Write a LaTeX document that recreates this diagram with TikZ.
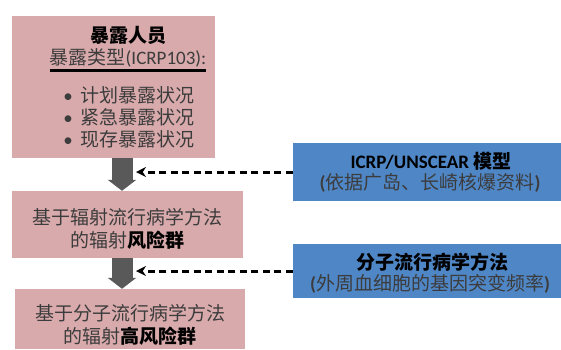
\documentclass[tikz,border=0pt]{standalone}
\usepackage{fontspec}
\newfontfamily\cjk{Noto Sans CJK SC}
\newfontfamily\lat{Carlito}
\usetikzlibrary{arrows.meta}
\definecolor{pinkfill}{RGB}{217,170,172}
\definecolor{bluefill}{RGB}{79,134,198}
\definecolor{arrowgray}{RGB}{89,89,89}
\definecolor{txtgray}{RGB}{60,60,60}
\begin{document}
\begin{tikzpicture}[x=1pt,y=-1pt,
  pinkb/.style={fill=pinkfill,draw=none,inner sep=0pt},
  blueb/.style={fill=bluefill,draw=none,inner sep=0pt},
  txt/.style={inner sep=0pt,text=txtgray,font=\cjk\fontsize{19}{22.5}\selectfont},
  txtb/.style={inner sep=0pt,text=black,font=\cjk\bfseries\fontsize{19}{22.5}\selectfont},
  blockarr/.style={draw=arrowgray,line width=21pt,-{Triangle[width=28pt,length=11pt]}},
  dasharr/.style={draw=black,line width=3pt,dash pattern=on 7pt off 4.5pt,-{Stealth[length=10pt,width=10pt]}}]
\useasboundingbox (0,0) rectangle (561,349);
% boxes
\node[pinkb,minimum width=203pt,minimum height=142pt] (b1) at (113.5,87) {};
\node[pinkb,minimum width=231pt,minimum height=67pt] (b2) at (127.5,224.5) {};
\node[pinkb,minimum width=230pt,minimum height=60pt] (b3) at (130,319) {};
\node[blueb,minimum width=268pt,minimum height=58pt] (c1) at (427,172) {};
\node[blueb,minimum width=268pt,minimum height=54pt] (c2) at (427,271) {};
% box 1 text
\node[txtb] (t1) at (128,35) {暴露人员};
\node[txt] (t2) at (128,58) {暴露类型{\lat (ICRP103):}};
\draw[line width=2.2pt] ([yshift=-3pt]t2.south west) -- ([yshift=-3pt]t2.south east);
\node[txt] (t3) at (129,95) {{\lat •}\hspace{8pt}计划暴露状况};
\node[txt] (t4) at (129,117) {{\lat •}\hspace{8pt}紧急暴露状况};
\node[txt] (t5) at (129,139) {{\lat •}\hspace{8pt}现存暴露状况};
% box 2 text
\node[txt] (t6) at (127,217) {基于辐射流行病学方法};
\node[txt] (t7) at (127,240) {的辐射{\color{black}\bfseries 风险群}};
% box 3 text
\node[txt] (t8) at (130,313) {基于分子流行病学方法};
\node[txt] (t9) at (130,336) {的辐射{\color{black}\bfseries 高风险群}};
% blue texts
\node[txtb] (u1) at (431,161) {{\lat\bfseries ICRP/UNSCEAR} 模型};
\node[txt] (u2) at (430,183) {{\lat\bfseries (}依据广岛、长崎核爆资料{\lat\bfseries )}};
\node[txtb] (u3) at (432,262) {分子流行病学方法};
\node[txt] (u4) at (430,284) {{\lat\bfseries (}外周血细胞的基因突变频率{\lat\bfseries )}};
% connectors
\coordinate (ax) at (122,0);
\coordinate (dx) at (136,0);
\draw[blockarr] (b1.south -| ax) -- (b2.north -| ax);
\draw[blockarr] (b2.south -| ax) -- (b3.north -| ax);
\draw[dasharr] (c1.west) -- (c1.west -| dx);
\draw[dasharr] (c2.west) -- (c2.west -| dx);
\end{tikzpicture}
\end{document}
